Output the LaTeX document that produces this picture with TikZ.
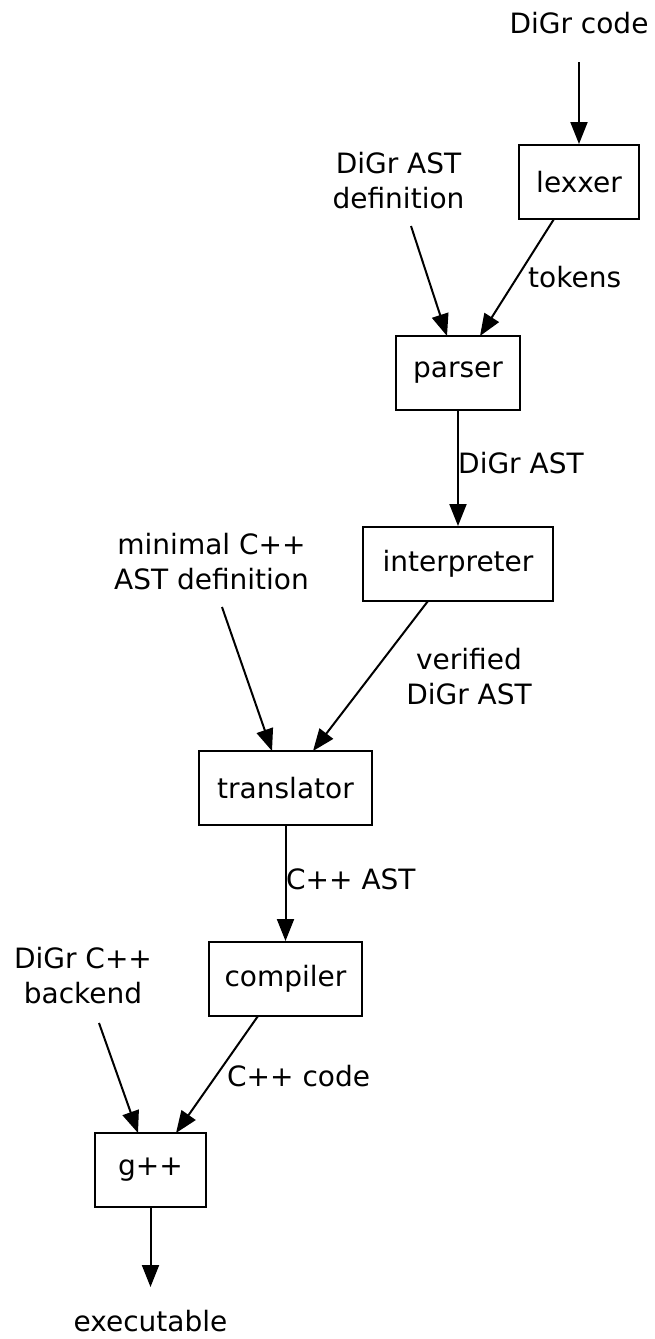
\documentclass[tikz,border=0pt]{standalone}
\usepackage{fontspec}
\setmainfont{DejaVu Sans}
\usetikzlibrary{arrows.meta,calc}
\newcommand{\fsz}{\fontsize{28}{35}\selectfont}
\begin{document}
\begin{tikzpicture}[x=1pt,y=-1pt,
  box/.style={draw, line width=2pt, minimum height=74pt, inner sep=0pt, font=\fsz},
  txt/.style={inner sep=0pt, align=center, font=\fsz},
  arr/.style={line width=2pt, -{Triangle[length=22pt,width=17pt]}}]
\useasboundingbox (0,0) rectangle (654,1339);
% nodes
\node[txt, anchor=base] (code) at (579,33) {DiGr code};
\node[box, minimum width=120pt] (lexxer) at (579,182) {lexxer};
\node[txt] (def) at (398.5,180.5) {DiGr AST\\definition};
\node[box, minimum width=124pt] (parser) at (458,373) {parser};
\node[box, minimum width=190pt] (interp) at (458,564) {interpreter};
\node[txt] (minimal) at (211.5,562) {minimal C++\\AST definition};
\node[box, minimum width=173pt] (transl) at (285.5,788) {translator};
\node[box, minimum width=153pt] (compiler) at (285.5,979) {compiler};
\node[txt] (backend) at (83,976) {DiGr C++\\backend};
\node[box, minimum width=111pt] (gpp) at (150.5,1170) {g++};
\node[txt, anchor=base] (exe) at (150.5,1331) {executable};
% edges
\draw[arr] ($(code.base)+(0,29)$) -- (lexxer.north);
\draw[arr] ($(def)+(12.5,45.5)$) -- ($(parser)+(-11,-37)$);
\draw[arr] ($(lexxer)+(-25,37)$) -- ($(parser)+(22,-37)$);
\node[txt, anchor=base west] (tok) at (528,287) {tokens};
\draw[arr] (parser.south) -- (interp.north);
\node[txt, anchor=base west] (l1) at (458,473) {DiGr AST};
\draw[arr] ($(minimal)+(10.5,45)$) -- ($(transl)+(-13.5,-37)$);
\draw[arr] ($(interp)+(-30,37)$) -- ($(transl)+(27.5,-37)$);
\node[txt] (l2) at (469,677) {verified\\DiGr AST};
\draw[arr] (transl.south) -- (compiler.north);
\node[txt, anchor=base west] (l3) at (286,889) {C++ AST};
\draw[arr] ($(backend)+(16,47)$) -- ($(gpp)+(-12.5,-37)$);
\draw[arr] ($(compiler)+(-27.5,37)$) -- ($(gpp)+(25.5,-37)$);
\node[txt, anchor=base west] (l4) at (227,1086) {C++ code};
\draw[arr] (gpp.south) -- ($(exe.base)+(0,-44)$);
\end{tikzpicture}
\end{document}
